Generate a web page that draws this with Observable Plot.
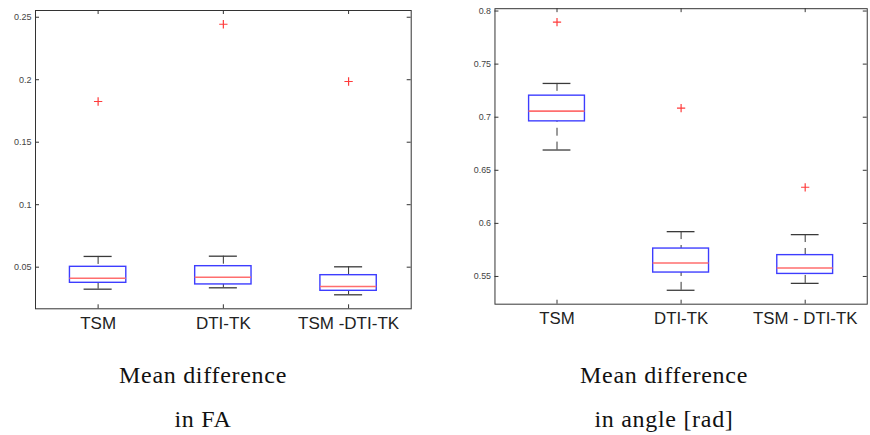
<!DOCTYPE html>
<html>
<head>
<meta charset="utf-8">
<script src="https://cdn.jsdelivr.net/npm/d3@7"></script>
<script src="https://cdn.jsdelivr.net/npm/@observablehq/plot@0.6"></script>
<style>
  html, body { margin: 0; padding: 0; background: #fff; overflow: hidden; }
  #wrap { position: relative; width: 870px; height: 435px; overflow: hidden; }
  .panel { position: absolute; top: 0; }
  .cap { position: absolute; width: 320px; text-align: center; font-family: "Liberation Serif", "DejaVu Serif", serif;
         font-size: 24px; line-height: 24px; color: #111; letter-spacing: 0.7px; white-space: nowrap; }
</style>
</head>
<body>
<div id="wrap">
  <div id="left" class="panel" style="left:0px"></div>
  <div id="right" class="panel" style="left:450px"></div>
  <div class="cap" style="left:43px; top:363px">Mean difference</div>
  <div class="cap" style="left:43px; top:407px">in FA</div>
  <div class="cap" style="left:504px; top:363px">Mean difference</div>
  <div class="cap" style="left:504px; top:407px">in angle [rad]</div>
</div>
<script>
// ---- data ----
const positions = [1, 2, 3];
const faLabels = ["TSM", "DTI-TK", "TSM -DTI-TK"];
const angleLabels = ["TSM", "DTI-TK", "TSM - DTI-TK"];

const faLow  = [0.0324, 0.0335, 0.0279];
const faQ1   = [0.0375, 0.0362, 0.0311];
const faMed  = [0.0412, 0.0420, 0.0346];
const faQ3   = [0.0503, 0.0508, 0.0436];
const faHigh = [0.0586, 0.0588, 0.0503];
const faOut  = [0.1826, 0.2444, 0.1986];
const faTicks = [0.05, 0.1, 0.15, 0.2, 0.25];
const faTickLabels = ["0.05", "0.1", "0.15", "0.2", "0.25"];

const angLow  = [0.6691, 0.5370, 0.5435];
const angQ1   = [0.6961, 0.5537, 0.5524];
const angMed  = [0.7057, 0.5627, 0.5580];
const angQ3   = [0.7203, 0.5763, 0.5701];
const angHigh = [0.7318, 0.5922, 0.5894];
const angOut  = [0.7895, 0.7085, 0.6340];
const angTicks = [0.55, 0.6, 0.65, 0.7, 0.75, 0.8];
const angTickLabels = ["0.55", "0.6", "0.65", "0.7", "0.75", "0.8"];

function panel({labels, low, q1, med, q3, high, out, ticks, tickLabels, yDomain, width, height, margins}) {
  const rows = positions.map((p, i) => ({p, low: low[i], q1: q1[i], med: med[i], q3: q3[i], high: high[i], out: out[i]}));
  const bh = 0.225, ch = 0.112;
  const innerW = width - margins.left - margins.right;
  const innerH = height - margins.top - margins.bottom;
  const tickLen = 4;
  return Plot.plot({
    width, height,
    marginLeft: margins.left, marginRight: margins.right, marginTop: margins.top, marginBottom: margins.bottom,
    x: {domain: [0.5, 3.5]},
    y: {domain: yDomain},
    style: {background: "white", overflow: "visible"},
    marks: [
      // inward ticks on all four sides
      Plot.tickY(ticks, {y: d => d, insetRight: innerW - tickLen, stroke: "#333"}),
      Plot.tickY(ticks, {y: d => d, insetLeft: innerW - tickLen, stroke: "#333"}),
      Plot.tickX(positions, {x: d => d, insetTop: innerH - tickLen, stroke: "#333"}),
      Plot.tickX(positions, {x: d => d, insetBottom: innerH - tickLen, stroke: "#333"}),
      // whiskers (dashed, from cap toward box)
      Plot.ruleX(rows, {x: "p", y1: "high", y2: "q3", stroke: "#333", strokeDasharray: "8,6"}),
      Plot.ruleX(rows, {x: "p", y1: "low", y2: "q1", stroke: "#333", strokeDasharray: "8,6"}),
      // caps
      Plot.ruleY(rows, {y: "high", x1: d => d.p - ch, x2: d => d.p + ch, stroke: "#3a3a3a", strokeWidth: 1.3}),
      Plot.ruleY(rows, {y: "low", x1: d => d.p - ch, x2: d => d.p + ch, stroke: "#3a3a3a", strokeWidth: 1.3}),
      // boxes
      Plot.rect(rows, {x1: d => d.p - bh, x2: d => d.p + bh, y1: "q1", y2: "q3", stroke: "#3d3dff", strokeWidth: 1.4, fill: "none"}),
      // medians
      Plot.ruleY(rows, {y: "med", x1: d => d.p - bh, x2: d => d.p + bh, stroke: "#ff6e6e", strokeWidth: 1.6}),
      // outliers
      Plot.dot(rows, {x: "p", y: "out", symbol: "plus", r: 2.8, stroke: "#ff3b3b", strokeWidth: 1.2}),
      Plot.frame({stroke: "#333", strokeWidth: 1}),
      Plot.axisY(ticks, {tickSize: 0, tickPadding: 4, tickFormat: (d, i) => tickLabels[i], fontSize: 9, fill: "#444",
        fontFamily: "Liberation Sans, Arial, sans-serif"}),
      Plot.axisX(positions, {tickSize: 0, tickPadding: 8, tickFormat: (d, i) => labels[i], fontSize: 17, fill: "#222",
        fontFamily: "Liberation Sans, Arial, sans-serif", label: null})
    ]
  });
}

document.getElementById("left").appendChild(panel({
  labels: faLabels, low: faLow, q1: faQ1, med: faMed, q3: faQ3, high: faHigh, out: faOut,
  ticks: faTicks, tickLabels: faTickLabels, yDomain: [0.0167, 0.2554],
  width: 440, height: 340, margins: {left: 35, right: 29.3, top: 10, bottom: 31.7}
}));
document.getElementById("right").appendChild(panel({
  labels: angleLabels, low: angLow, q1: angQ1, med: angMed, q3: angQ3, high: angHigh, out: angOut,
  ticks: angTicks, tickLabels: angTickLabels, yDomain: [0.5239, 0.8022],
  width: 425, height: 340, margins: {left: 45, right: 3.3, top: 8.3, bottom: 32.7}
}));
</script>
</body>
</html>
